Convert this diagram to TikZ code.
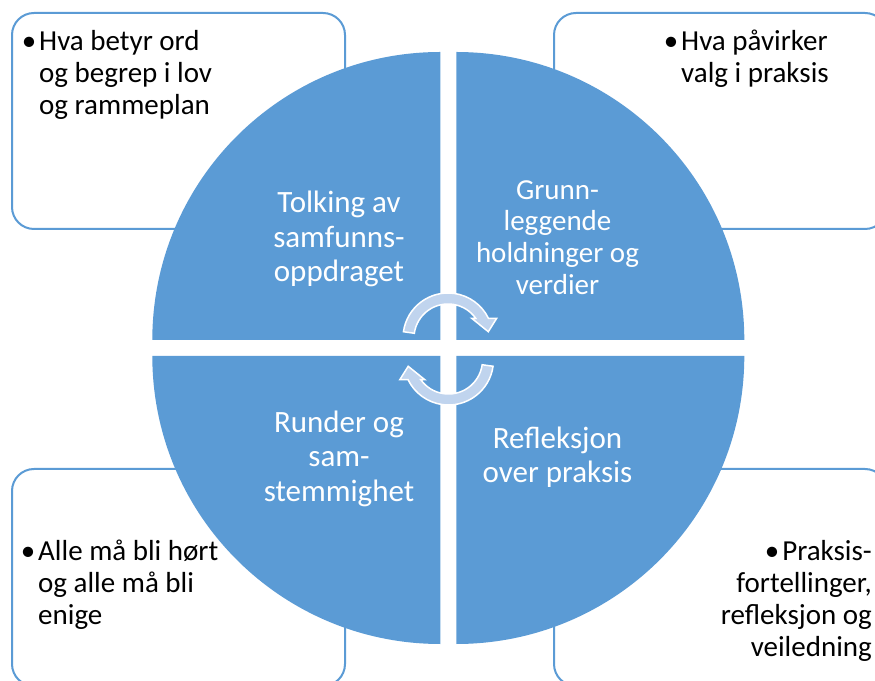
\documentclass[tikz,border=0pt]{standalone}
\usepackage{fontspec}
\setmainfont{Carlito}
\definecolor{qblue}{RGB}{91,155,213}
\definecolor{arrowfill}{RGB}{192,212,238}
\newcommand{\fstrut}{\rule{0pt}{24pt}}
\newcommand{\hangbullet}{\llap{•\hspace{3pt}}}
\begin{document}
\begin{tikzpicture}[x=1pt,y=1pt,
  infobox/.style={draw=qblue, line width=2pt, rounded corners=22pt, fill=white, inner sep=0pt, anchor=north west},
  quad/.style={fill=qblue},
  quadtext/.style={text=white, align=center, font=\fontsize{31}{34.5}\selectfont, inner sep=0pt},
  quadtextsmall/.style={quadtext, font=\fontsize{29}{31.7}\selectfont},
  boxtext/.style={text=black, font=\fontsize{29}{32}\selectfont, inner sep=0pt},
  cycarrow/.style={fill=arrowfill, draw=white, line width=1.5pt, line join=miter}
]
\useasboundingbox (0,0) rectangle (875,680);
\begin{scope}
\clip (0,0) rectangle (875,680);
% info boxes
\node[infobox, minimum width=333pt, minimum height=216pt] (tlbox) at (11,668) {};
\node[infobox, minimum width=333pt, minimum height=216pt] (trbox) at (553,668) {};
\node[infobox, minimum width=333pt, minimum height=217pt] (blbox) at (11,212) {};
\node[infobox, minimum width=333pt, minimum height=217pt] (brbox) at (553,212) {};
% quadrants
\coordinate (ctl) at (440.3,340);
\coordinate (ctr) at (456.3,340);
\coordinate (cbl) at (440.3,324);
\coordinate (cbr) at (456.3,324);
\fill[quad] (ctl) -- ++(-288,0) arc[start angle=180, end angle=90, radius=288] -- cycle;
\fill[quad] (ctr) -- ++(0,288) arc[start angle=90, end angle=0, radius=288] -- cycle;
\fill[quad] (cbl) -- ++(0,-288) arc[start angle=270, end angle=180, radius=288] -- cycle;
\fill[quad] (cbr) -- ++(288,0) arc[start angle=0, end angle=-90, radius=288] -- cycle;
% cycle arrows
\begin{scope}[shift={(448,342)}]
\path[cycarrow] (172:34) -- (172:45) arc[start angle=172, end angle=26, radius=45]
  -- (48.7,19.7) -- (40.3,6.3) -- (23.7,19.7) -- (35.4:34)
  arc[start angle=35.4, end angle=172, radius=34] -- cycle;
\end{scope}
\begin{scope}[shift={(448.5,320)}, rotate=180]
\path[cycarrow] (172:34) -- (172:45) arc[start angle=172, end angle=26, radius=45]
  -- (48.7,19.7) -- (40.3,6.3) -- (23.7,19.7) -- (35.4:34)
  arc[start angle=35.4, end angle=172, radius=34] -- cycle;
\end{scope}
% quadrant texts
\node[quadtext] (tltext) at (339,441) {Tolking av\\samfunns-\\oppdraget};
\node[quadtextsmall] (trtext) at (557.5,442.5) {Grunn-\\leggende\\holdninger og\\verdier};
\node[quadtext] (bltext) at (339,221.5) {Runder og\\sam-\\stemmighet};
\node[quadtext] (brtext) at (557.5,223) {Refleksjon\\over praksis};
% box texts
\node[boxtext, align=left, anchor=north west] (tlinfo) at (39,654) {\fstrut\hangbullet Hva betyr ord\\og begrep i lov\\og rammeplan};
\node[boxtext, align=left, anchor=north west] (trinfo) at (681,654) {\fstrut\hangbullet Hva påvirker\\valg i praksis};
\node[boxtext, align=left, anchor=north west] (blinfo) at (38,144) {\fstrut\hangbullet Alle må bli hørt\\og alle må bli\\enige};
\node[boxtext, align=right, anchor=north east] (brinfo) at (872,144) {\fstrut•\hspace{3pt}Praksis-\\fortellinger,\\refleksjon og\\veiledning};
\end{scope}
\end{tikzpicture}
\end{document}
